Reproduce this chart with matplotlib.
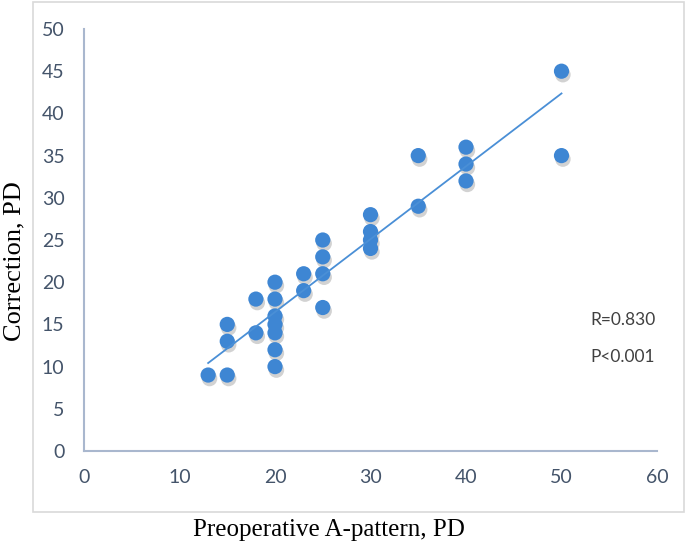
import numpy as np
import matplotlib
matplotlib.use("Agg")
import matplotlib.pyplot as plt
from matplotlib.patches import Rectangle
from matplotlib import transforms

preop = [13, 15, 15, 15, 18, 18, 20, 20, 20, 20, 20, 20, 20, 23, 23,
         25, 25, 25, 25, 30, 30, 30, 30, 35, 35, 40, 40, 40, 50, 50]
correction = [9, 9, 13, 15, 14, 18, 10, 12, 14, 15, 16, 18, 20, 19, 21,
              17, 21, 23, 25, 24, 25, 26, 28, 29, 35, 32, 34, 36, 35, 45]
x_ticks = [0, 10, 20, 30, 40, 50, 60]
y_ticks = [0, 5, 10, 15, 20, 25, 30, 35, 40, 45, 50]
stats_text = ["R=0.830", "P<0.001"]

tick_font = "Lato"
tick_color = "#44546A"
spine_color = "#A9B7CE"
point_color = "#3E86D3"

fig = plt.figure(figsize=(6.85, 5.45), dpi=100)
fig.patch.set_facecolor("white")
# outer chart-area border
fig.add_artist(Rectangle((33 / 685, 33 / 545), 651 / 685, 510 / 545,
                         transform=fig.transFigure, fill=False,
                         edgecolor="#D9D9D9", linewidth=1.2))

ax = fig.add_axes([84 / 685, (545 - 451) / 545, (657 - 84) / 685, (451 - 29) / 545])
ax.set_xlim(0, 60)
ax.set_ylim(0, 50)
for s in ["top", "right"]:
    ax.spines[s].set_visible(False)
for s in ["left", "bottom"]:
    ax.spines[s].set_color(spine_color)
    ax.spines[s].set_linewidth(1.5)
ax.set_xticks(x_ticks)
ax.set_yticks(y_ticks)
ax.tick_params(length=0, labelsize=14, colors=tick_color)
ax.tick_params(axis="x", pad=13)
ax.tick_params(axis="y", pad=14)
for lab in ax.get_xticklabels() + ax.get_yticklabels():
    lab.set_fontfamily(tick_font)

x = np.array(preop, dtype=float)
y = np.array(correction, dtype=float)

# shadow
shadow = transforms.offset_copy(ax.transData, fig=fig, x=1.0, y=-2.5, units="points")
ax.scatter(x, y, s=125, color="#7F7F7F", alpha=0.35, edgecolors="none",
           transform=shadow, zorder=2, clip_on=False)
ax.scatter(x, y, s=120, color=point_color, edgecolors="none", zorder=3, clip_on=False)

coef = np.polyfit(x, y, 1)
xl = np.array([x.min(), x.max()])
ax.plot(xl, np.polyval(coef, xl), color="#4A8FD6", linewidth=1.3, zorder=4)

ax.text(53.0, 15.5, stats_text[0], fontsize=12.5, color="#404040",
        fontfamily=tick_font, va="center", ha="left")
ax.text(53.0, 11.1, stats_text[1], fontsize=12.5, color="#404040",
        fontfamily=tick_font, va="center", ha="left")

fig.text(329 / 685, 1 - 530 / 545, "Preoperative A-pattern, PD",
         fontsize=18, fontfamily="Liberation Serif", ha="center", va="center")
fig.text(14 / 685, 1 - 261 / 545, "Correction, PD", rotation=90,
         fontsize=19, fontfamily="Liberation Serif", ha="center", va="center")

fig.savefig("out.png", dpi=100, facecolor="white")
